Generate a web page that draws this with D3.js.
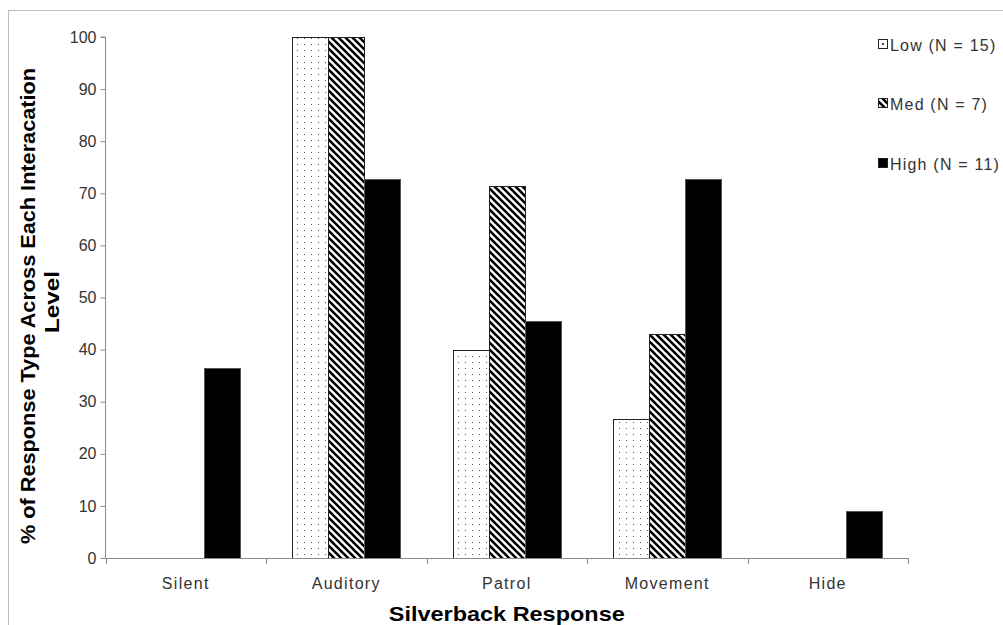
<!DOCTYPE html>
<html><head><meta charset="utf-8">
<script src="https://cdn.jsdelivr.net/npm/d3@7"></script>
<style>body{margin:0;background:#fff}svg{display:block}</style>
</head><body>
<svg id="c" width="1003" height="625"></svg>
<script>
const categories = ["Silent", "Auditory", "Patrol", "Movement", "Hide"];
const seriesNames = ["Low (N = 15)", "Med (N = 7)", "High (N = 11)"];
const lowValues  = [0, 100, 40, 26.7, 0];
const medValues  = [0, 100, 71.4, 42.9, 0];
const highValues = [36.4, 72.7, 45.5, 72.7, 9.1];
const yTicks = [0, 10, 20, 30, 40, 50, 60, 70, 80, 90, 100];
const yTitle1 = "% of Response Type Across Each Interacation";
const yTitle2 = "Level";
const xTitle = "Silverback Response";

(function(){
const svg = d3.select("#c");
const font = "'Liberation Sans', Arial, sans-serif";
const defs = svg.append("defs");
// dotted pattern
const pd = defs.append("pattern").attr("id","dots").attr("patternUnits","userSpaceOnUse")
  .attr("width",7).attr("height",6);
pd.append("rect").attr("width",7).attr("height",6).attr("fill","#fff");
pd.append("rect").attr("x",3).attr("y",2).attr("width",1).attr("height",1).attr("fill","#555");
// wide downward diagonal pattern
const ps = defs.append("pattern").attr("id","diag").attr("patternUnits","userSpaceOnUse")
  .attr("width",7).attr("height",7);
ps.append("rect").attr("width",7).attr("height",7).attr("fill","#fff");
ps.append("path").attr("d","M-2,-2 L9,9 M-2,5 L2,9 M5,-2 L9,2").attr("stroke","#000").attr("stroke-width",2.6);
const fills = ["url(#dots)","url(#diag)","#000"];

// outer border
svg.append("rect").attr("x",8.5).attr("y",10.5).attr("width",1100).attr("height",700)
  .attr("fill","none").attr("stroke","#bdbdbd");

const pLeft = 105.5, pRight = 908, pTop = 37, pBottom = 558;
const x0 = d3.scaleBand().domain(categories).range([pLeft, pRight]).paddingInner(0).paddingOuter(0);
const x1 = d3.scaleBand().domain(seriesNames).range([0, x0.bandwidth()]).paddingInner(0).paddingOuter(0.729);
const y = d3.scaleLinear().domain([0, 100]).range([pBottom, pTop]);

const data = categories.map((c,i)=>({cat:c, vals:[lowValues[i], medValues[i], highValues[i]]}));

// bars
const g = svg.append("g");
data.forEach(d=>{
  d.vals.forEach((v,j)=>{
    if (v <= 0) return;
    g.append("rect")
      .attr("x", Math.round(x0(d.cat) + x1(seriesNames[j])) + 0.5)
      .attr("y", Math.round(y(v)) + 0.5)
      .attr("width", Math.round(x1.bandwidth()))
      .attr("height", Math.round(y(0)) - Math.round(y(v)))
      .attr("fill", fills[j])
      .attr("stroke", j===2 ? "#555" : "#222")
      .attr("stroke-width", 1);
  });
});

// y axis
const ya = svg.append("g").attr("transform",`translate(${pLeft},0)`)
  .call(d3.axisLeft(y).tickValues(yTicks).tickSize(5).tickPadding(4));
ya.select(".domain").attr("stroke","#8a8a8a").attr("d",`M-5,${pTop}H0V${pBottom}`);
ya.selectAll(".tick line").attr("stroke","#8a8a8a");
ya.selectAll(".tick text").attr("fill","#333").style("font-family",font).style("font-size","16px");

// x axis
const xa = svg.append("g").attr("transform",`translate(0,${pBottom})`);
xa.append("line").attr("x1",pLeft).attr("x2",pRight).attr("y1",0.5).attr("y2",0.5).attr("stroke","#8a8a8a");
const bounds = categories.map(c=>x0(c)).concat([x0(categories[categories.length-1])+x0.bandwidth()]);
xa.selectAll("line.tk").data(bounds).enter().append("line").attr("class","tk")
  .attr("x1",d=>Math.round(d)+0.5).attr("x2",d=>Math.round(d)+0.5).attr("y1",0).attr("y2",6).attr("stroke","#8a8a8a");
xa.selectAll("text").data(categories).enter().append("text")
  .attr("x",d=>x0(d)+x0.bandwidth()/2).attr("y",31)
  .attr("text-anchor","middle").attr("fill","#333")
  .style("font-family",font).style("font-size","16px").style("letter-spacing","1.3px").text(d=>d);

// titles
svg.append("text").attr("transform","translate(35,306) rotate(-90)")
  .attr("text-anchor","middle").attr("textLength",476).attr("lengthAdjust","spacingAndGlyphs")
  .style("font-family",font).style("font-weight","bold").style("font-size","21px").attr("fill","#000").text(yTitle1);
svg.append("text").attr("transform","translate(59,302) rotate(-90)")
  .attr("text-anchor","middle").attr("textLength",62).attr("lengthAdjust","spacingAndGlyphs")
  .style("font-family",font).style("font-weight","bold").style("font-size","21px").attr("fill","#000").text(yTitle2);
svg.append("text").attr("x",(pLeft+pRight)/2).attr("y",621)
  .attr("text-anchor","middle").attr("textLength",236).attr("lengthAdjust","spacingAndGlyphs")
  .style("font-family",font).style("font-weight","bold").style("font-size","21px").attr("fill","#000").text(xTitle);

// legend
const leg = svg.append("g");
const legY = [45, 104, 164];
seriesNames.forEach((s,j)=>{
  leg.append("rect").attr("x",878.5).attr("y",legY[j]-5.5).attr("width",9).attr("height",9)
    .attr("fill", j===0 ? "#fff" : j===1 ? "url(#diag)" : "#000").attr("stroke","#222");
  if (j===0) leg.append("rect").attr("x",882).attr("y",legY[j]-2).attr("width",2).attr("height",2).attr("fill","#444");
  leg.append("text").attr("x",890).attr("y",legY[j]+6).attr("fill","#333")
    .style("font-family",font).style("font-size","16px").style("letter-spacing","1.2px").text(s);
});
})();
</script>
</body></html>
